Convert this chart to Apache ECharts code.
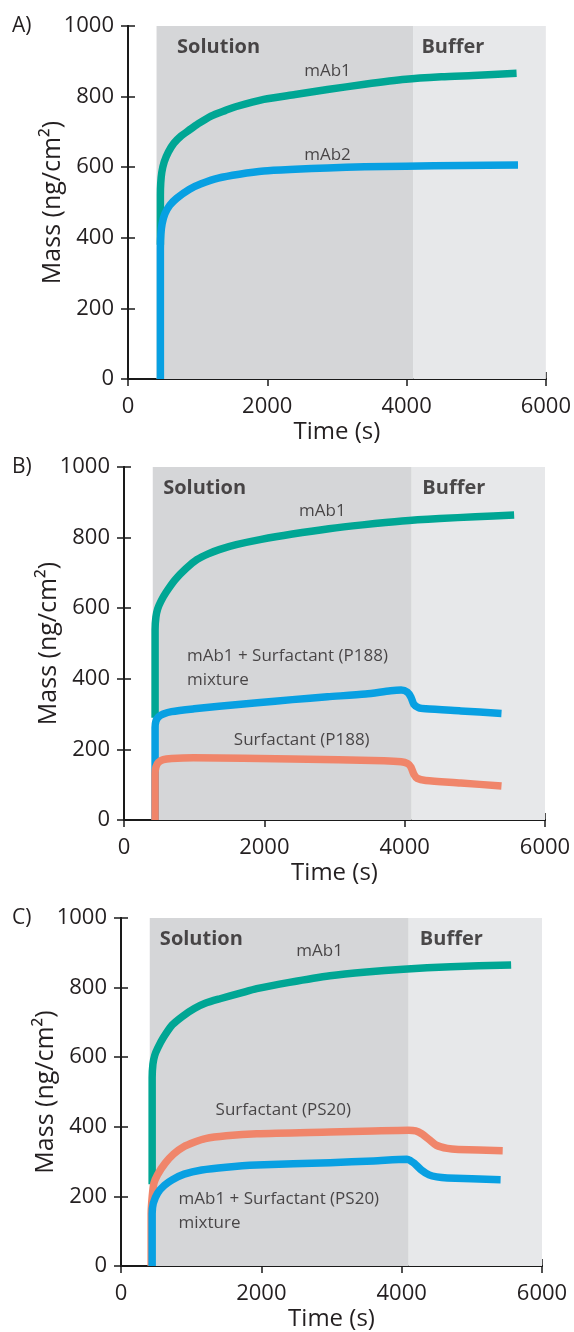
<!DOCTYPE html>
<html>
<head>
<meta charset="utf-8">
<script src="https://cdn.jsdelivr.net/npm/echarts@6/dist/echarts.min.js"></script>
<style>
html,body{margin:0;padding:0;background:#fff;}
#chart{width:574px;height:1332px;}
</style>
</head>
<body>
<div id="chart"></div>
<script>
// ---------- data (time in s, mass in ng/cm2) ----------
const xTicks = [0, 2000, 4000, 6000];
const yTicks = [0, 200, 400, 600, 800, 1000];
const panelLetters = ['A)', 'B)', 'C)'];
const solutionRange = [410, 4100];
const bufferRange = [4100, 6000];

// Panel A
const A_mAb1 = [[465,380],[465,520],[470,555],[485,585],[520,615],[580,643],[660,668],[760,688],[878,705],[1000,722],[1192,745],[1400,761],[1557,772],[1949,792],[2400,806],[2864,820],[3400,835],[3988,849],[4500,856],[4954,860],[5580,866]];
const A_mAb2 = [[465,0],[465,370],[472,410],[490,440],[530,468],[600,492],[700,512],[878,537],[1050,553],[1296,569],[1600,580],[1949,589],[2400,594],[2864,598],[3400,601],[3988,603],[4800,605],[5600,606]];

// Panel B
const B_mAb1 = [[443,290],[443,540],[455,575],[480,598],[522,618],[600,645],[730,681],[880,712],[1043,738],[1200,754],[1356,766],[1600,780],[1956,795],[2400,810],[2921,825],[3400,836],[3965,847],[4500,854],[5008,859],[5560,864]];
const B_mix = [[443,0],[443,262],[455,280],[490,292],[560,300],[678,307],[1000,315],[1356,322],[1900,332],[2400,341],[2900,349],[3443,357],[3800,366],[3950,368],[4040,362],[4090,348],[4130,328],[4200,318],[4300,315],[4800,309],[5380,302]];
const B_P188 = [[443,0],[443,130],[455,150],[490,163],[560,171],[678,174],[991,176],[2400,173],[3704,168],[3950,165],[4040,160],[4090,150],[4130,130],[4180,118],[4300,112],[4800,105],[5380,96]];

// Panel C
const C_mAb1 = [[444,235],[444,540],[455,580],[480,605],[523,626],[600,655],[732,693],[880,718],[1045,740],[1200,755],[1411,768],[1700,784],[1934,797],[2400,815],[2979,834],[3500,845],[4024,853],[4700,860],[5560,865]];
const C_PS20 = [[430,0],[430,150],[445,200],[470,238],[520,262],[627,295],[750,322],[888,342],[1050,356],[1202,366],[1500,374],[1934,380],[2979,385],[3600,388],[4100,390],[4200,388],[4285,380],[4400,362],[4494,347],[4650,338],[4808,335],[5440,331]];
const C_mix = [[444,0],[444,150],[460,180],[523,210],[620,232],[732,248],[900,264],[1150,276],[1500,284],[1934,290],[2979,297],[3600,302],[4076,307],[4130,302],[4181,295],[4280,276],[4390,262],[4500,256],[4651,253],[5410,248]];

// annotations: [x, y, text, bold]
const A_notes = [[705,941,'Solution',true],[4213,941,'Buffer',true],[2530,871,'mAb1',false],[2530,635,'mAb2',false]];
const B_notes = [[558,941,'Solution',true],[4252,941,'Buffer',true],[2494,875,'mAb1',false],[897,464,'mAb1 + Surfactant (P188)',false],[897,397,'mixture',false],[1565,227,'Surfactant (P188)',false]];
const C_notes = [[554,940,'Solution',true],[4259,940,'Buffer',true],[2498,905,'mAb1',false],[1348,447,'Surfactant (PS20)',false],[820,191,'mAb1 + Surfactant (PS20)',false],[820,122,'mixture',false]];

// ---------- styling ----------
const GREEN = '#00a694', BLUE = '#08a0e2', ORANGE = '#f0856a';
const FONT = "'Open Sans', 'Noto Sans', sans-serif";
const INK = '#231f20';
const grids = [
  {left:128, top:26, width:421, height:353},
  {left:124, top:467, width:421, height:353},
  {left:121, top:918, width:421, height:353}
];
const panels = [
  {lines:[[A_mAb1,GREEN],[A_mAb2,BLUE]], notes:A_notes},
  {lines:[[B_mAb1,GREEN],[B_mix,BLUE],[B_P188,ORANGE]], notes:B_notes},
  {lines:[[C_mAb1,GREEN],[C_PS20,ORANGE],[C_mix,BLUE]], notes:C_notes}
];

const axisLine = {show:true, lineStyle:{color:'#1a1a1a', width:2}};
const axisTick = {show:true, inside:false, length:7, lineStyle:{color:'#1a1a1a', width:1.5}};
const plain = v => String(v);

const option = {animation:false, backgroundColor:'#fff', grid:[], xAxis:[], yAxis:[], series:[], graphic:[]};

panels.forEach((p, i) => {
  option.grid.push(grids[i]);
  const xb = {type:'value', gridIndex:i, position:'bottom', min:xTicks[0], max:xTicks[xTicks.length-1], interval:xTicks[1]-xTicks[0],
    axisLine, axisTick, splitLine:{show:false},
    axisLabel:{fontSize:22, color:INK, fontFamily:FONT, margin:17, formatter:plain},
    name:'Time (s)', nameLocation:'middle', nameGap:41, nameMoveOverlap:false,
    nameTextStyle:{fontSize:24, color:INK, fontFamily:FONT}};
  const xt = {type:'value', gridIndex:i, position:'top', min:xTicks[0], max:xTicks[xTicks.length-1], interval:xTicks[1]-xTicks[0],
    axisLine, axisTick, splitLine:{show:false}, axisLabel:{show:false}};
  const yl = {type:'value', gridIndex:i, position:'left', min:yTicks[0], max:yTicks[yTicks.length-1], interval:yTicks[1]-yTicks[0],
    axisLine, axisTick, splitLine:{show:false},
    axisLabel:{fontSize:22, color:INK, fontFamily:FONT, margin:14, formatter:plain},
    name:'Mass (ng/cm\u00B2)', nameLocation:'middle', nameGap:63, nameMoveOverlap:false,
    nameTextStyle:{fontSize:25, color:INK, fontFamily:FONT}};
  const yr = {type:'value', gridIndex:i, position:'right', min:yTicks[0], max:yTicks[yTicks.length-1], interval:yTicks[1]-yTicks[0],
    axisLine, axisTick, splitLine:{show:false}, axisLabel:{show:false}};
  const xi = option.xAxis.length, yi = option.yAxis.length;
  option.xAxis.push(xb, xt);
  option.yAxis.push(yl, yr);

  // background shading
  option.series.push({
    type:'line', xAxisIndex:xi, yAxisIndex:yi, data:[], z:1, silent:true,
    markArea:{silent:true, data:[
      [{xAxis:solutionRange[0], itemStyle:{color:'#d5d6d8'}},{xAxis:solutionRange[1]}],
      [{xAxis:bufferRange[0], itemStyle:{color:'#e7e8ea'}},{xAxis:bufferRange[1]}]
    ]}
  });
  p.lines.forEach(([d, c], k) => {
    option.series.push({
      type:'line', xAxisIndex:xi, yAxisIndex:yi, data:d, showSymbol:false, symbol:'none',
      smooth:0.25,
      z:3+k, lineStyle:{color:c, width:7.5, cap:'butt', join:'round'}, silent:true
    });
  });
  option.series.push({
    type:'scatter', xAxisIndex:xi, yAxisIndex:yi, symbolSize:0, z:10, silent:true,
    data:p.notes.map(n => ({value:[n[0], n[1]], name:n[2],
      label:{show:true, position:'right', distance:0, formatter:'{b}', color:INK, fontFamily:FONT,
        fontSize:n[3]?20:17, fontWeight:n[3]?'bold':'normal'}}))
  });
  option.graphic.push({type:'text', left:12, top:grids[i].top - 10,
    style:{text:panelLetters[i], font:'21px ' + FONT, fill:INK}});
});

const chart = echarts.init(document.getElementById('chart'), null, {renderer:'canvas'});
chart.setOption(option);
</script>
</body>
</html>
